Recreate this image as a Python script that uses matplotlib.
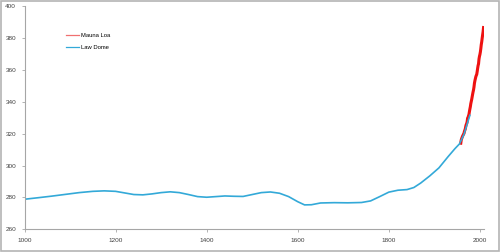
import matplotlib
matplotlib.use("Agg")
import matplotlib.pyplot as plt
from matplotlib.patches import Rectangle

# Law Dome ice core CO2 (ppm)
law_years = [1005, 1030, 1060, 1090, 1120, 1150, 1175, 1200, 1220, 1240,
             1260, 1280, 1300, 1320, 1340, 1360, 1380, 1400, 1420, 1440,
             1460, 1480, 1500, 1520, 1540, 1560, 1580, 1600, 1615, 1630,
             1650, 1680, 1710, 1740, 1760, 1780, 1800, 1820, 1840, 1855,
             1870, 1890, 1910, 1930, 1945, 1955, 1965, 1978]
law_co2 = [279.0, 279.8, 280.8, 281.9, 283.0, 283.8, 284.1, 283.8, 282.8, 281.8,
           281.6, 282.2, 283.0, 283.5, 283.0, 281.8, 280.5, 280.1, 280.5, 280.9,
           280.7, 280.6, 281.8, 283.0, 283.4, 282.6, 280.5, 277.3, 275.3, 275.4,
           276.5, 276.7, 276.6, 276.8, 277.8, 280.5, 283.3, 284.5, 284.9, 286.2,
           289.0, 293.5, 298.5, 305.5, 310.5, 313.5, 319.5, 331.5]

# Mauna Loa annual means (ppm)
ml_years = list(range(1958, 2009))
ml_co2 = [314.0, 315.97, 316.91, 317.64, 318.45, 318.99, 319.62, 320.04, 321.38, 322.16,
          323.04, 324.62, 325.68, 326.32, 327.45, 329.68, 330.18, 331.11, 332.04, 333.83,
          335.40, 336.84, 338.75, 340.11, 341.45, 343.05, 344.65, 346.12, 347.42, 349.19,
          351.57, 353.12, 354.39, 355.61, 356.45, 357.10, 358.83, 360.82, 362.61, 363.73,
          366.70, 368.38, 369.55, 371.14, 373.28, 375.80, 377.52, 379.80, 381.90, 383.79,
          386.5]

xticks = [1000, 1200, 1400, 1600, 1800, 2000]
yticks = [260, 280, 300, 320, 340, 360, 380, 400]

plt.rcParams['font.family'] = ['Liberation Sans', 'DejaVu Sans']

fig = plt.figure(figsize=(5, 2.52), dpi=100)
ax = fig.add_axes([24.5 / 500, 1 - 229.3 / 252, (484 - 24.5) / 500, (229.3 - 6) / 252])

ax.plot(ml_years, ml_co2, color='#ee1111', lw=2.2, label='Mauna Loa', zorder=2)
ax.plot(law_years, law_co2, color='#33a9d8', lw=1.2, label='Law Dome', zorder=3)

ax.set_xlim(1000, 2009)
ax.set_ylim(260, 400)
ax.set_xticks(xticks)
ax.set_yticks(yticks)

for s in ['top', 'right']:
    ax.spines[s].set_visible(False)
for s in ['left', 'bottom']:
    ax.spines[s].set_color('#a6a6a6')
    ax.spines[s].set_linewidth(0.8)
ax.tick_params(axis='both', colors='#a6a6a6', labelcolor='#404040',
               labelsize=4.6, length=2, width=0.6)
ax.tick_params(axis='y', pad=4)
ax.tick_params(axis='x', pad=4)

leg = fig.legend(loc='upper left', bbox_to_anchor=(66 / 500, 1 - 33 / 252),
                 frameon=False, fontsize=4.2, borderpad=0, borderaxespad=0,
                 handlelength=2.2, handletextpad=0.35, labelspacing=1.2)
leg.get_lines()[0].set_color('#f07070')
for ln in leg.get_lines():
    ln.set_linewidth(0.9)

# chart border like the spreadsheet frame
fig.patches.append(Rectangle((0.002, 0.004), 0.995, 0.992, transform=fig.transFigure,
                             fill=False, edgecolor='#b4b4b4', lw=1.2))

fig.savefig('out.png', dpi=100)
